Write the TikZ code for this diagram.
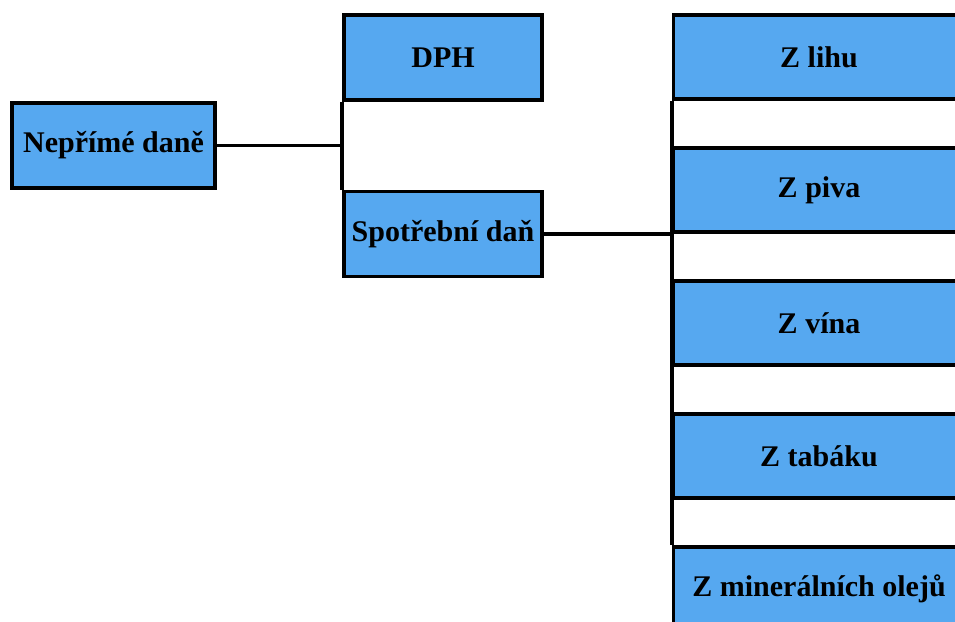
\documentclass[tikz,border=0pt]{standalone}
\usepackage{fontspec}
\setmainfont{Liberation Serif}
\definecolor{boxblue}{RGB}{86,168,240}
\tikzset{
  taxbox/.style={draw=black, fill=boxblue, line width=3.6pt, rectangle,
    inner sep=0pt, font=\bfseries\fontsize{30}{36}\selectfont},
  leftbox/.style={taxbox, minimum width=203pt, minimum height=85pt},
  midbox/.style={taxbox, minimum width=198pt, minimum height=85pt},
  rightbox/.style={taxbox, minimum width=291pt, minimum height=84pt},
  link/.style={draw=black, line width=3.6pt}
}
\begin{document}
\begin{tikzpicture}[x=1pt, y=-1pt]
  \useasboundingbox (0,0) rectangle (955,621);
  \clip (0,0) rectangle (955,621);
  \fill[white] (0,0) rectangle (955,621);

  % root
  \node[leftbox] (nep) at (113.5,145.5) {Nepřímé daně};

  % second level
  \node[midbox] (dph) at (443,57.5) {DPH};
  \node[midbox] (spo) at (443,234) {Spotřební daň};

  % excise duties
  \node[rightbox] (lih)  at (819,57)  {Z lihu};
  \node[rightbox] (piv)  at (819,190) {Z piva};
  \node[rightbox] (vin)  at (819,323) {Z vína};
  \node[rightbox] (tab)  at (819,456) {Z tabáku};
  \node[rightbox] (ole)  at (819,589) {Z minerálních olejů};

  % connectors
  \draw[link] (nep.east) -- (nep.east -| dph.west);
  \draw[link] (dph.south west) -- (spo.north west);
  \draw[link] (spo.east) -- (spo.east -| lih.west);
  \draw[link] (lih.south west) -- (ole.north west);
\end{tikzpicture}
\end{document}
